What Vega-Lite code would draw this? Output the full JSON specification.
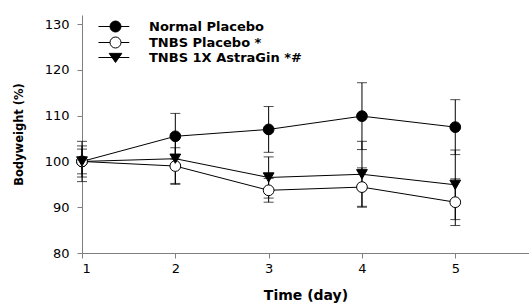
{
  "$schema": "https://vega.github.io/schema/vega-lite/v6.json",
  "width": 447,
  "height": 238,
  "autosize": {"type": "none"},
  "padding": {"left": 82, "top": 15, "right": 0, "bottom": 51},
  "background": "white",
  "config": {
    "view": {"stroke": null},
    "font": "DejaVu Sans",
    "axis": {
      "grid": false,
      "domainColor": "#7f7f7f",
      "tickColor": "#7f7f7f",
      "tickSize": 5,
      "labelColor": "black",
      "labelFontSize": 13,
      "labelFont": "DejaVu Sans",
      "titleColor": "black",
      "titleFont": "DejaVu Sans",
      "titleFontWeight": "bold"
    }
  },
  "data": {
    "values": [
      {"day": 1, "group": "Normal Placebo", "mean": 100.0, "lo": 95.6, "hi": 104.4},
      {"day": 2, "group": "Normal Placebo", "mean": 105.5, "lo": 100.5, "hi": 110.5},
      {"day": 3, "group": "Normal Placebo", "mean": 107.0, "lo": 102.0, "hi": 112.0},
      {"day": 4, "group": "Normal Placebo", "mean": 109.9, "lo": 102.6, "hi": 117.2},
      {"day": 5, "group": "Normal Placebo", "mean": 107.5, "lo": 101.5, "hi": 113.5},
      {"day": 1, "group": "TNBS Placebo", "mean": 100.0, "lo": 97.3, "hi": 102.7},
      {"day": 2, "group": "TNBS Placebo", "mean": 99.0, "lo": 95.0, "hi": 103.0},
      {"day": 3, "group": "TNBS Placebo", "mean": 93.7, "lo": 91.1, "hi": 96.3},
      {"day": 4, "group": "TNBS Placebo", "mean": 94.4, "lo": 90.2, "hi": 98.6},
      {"day": 5, "group": "TNBS Placebo", "mean": 91.1, "lo": 86.0, "hi": 96.2},
      {"day": 1, "group": "TNBS 1X AstraGin", "mean": 100.0, "lo": 96.6, "hi": 103.4},
      {"day": 2, "group": "TNBS 1X AstraGin", "mean": 100.6, "lo": 95.2, "hi": 106.0},
      {"day": 3, "group": "TNBS 1X AstraGin", "mean": 96.5, "lo": 92.0, "hi": 101.0},
      {"day": 4, "group": "TNBS 1X AstraGin", "mean": 97.2, "lo": 90.0, "hi": 104.4},
      {"day": 5, "group": "TNBS 1X AstraGin", "mean": 94.9, "lo": 87.3, "hi": 102.5}
    ]
  },
  "encoding": {
    "x": {
      "field": "day", "type": "quantitative",
      "scale": {"domain": [1, 5.79], "nice": false, "zero": false},
      "axis": {"values": [1, 2, 3, 4, 5], "format": "d", "title": "Time (day)", "titleFontSize": 14, "titlePadding": 13, "labelPadding": 4}
    }
  },
  "layer": [
    {
      "mark": {"type": "line", "color": "black", "strokeWidth": 1},
      "encoding": {
        "y": {"field": "mean", "type": "quantitative", "scale": {"domain": [80, 132], "nice": false, "zero": false},
          "axis": {"values": [80, 90, 100, 110, 120, 130], "title": "Bodyweight (%)", "titleFontSize": 11.5, "titlePadding": 20, "labelPadding": 8}},
        "detail": {"field": "group"}
      }
    },
    {
      "mark": {"type": "rule", "color": "black", "strokeWidth": 1},
      "encoding": {
        "y": {"field": "lo", "type": "quantitative"},
        "y2": {"field": "hi"}
      }
    },
    {
      "mark": {"type": "tick", "orient": "horizontal", "color": "black", "size": 10, "thickness": 1},
      "encoding": {"y": {"field": "lo", "type": "quantitative"}}
    },
    {
      "mark": {"type": "tick", "orient": "horizontal", "color": "black", "size": 10, "thickness": 1},
      "encoding": {"y": {"field": "hi", "type": "quantitative"}}
    },
    {
      "mark": {"type": "point", "filled": true, "size": 115, "stroke": "black", "strokeWidth": 1, "opacity": 1},
      "encoding": {
        "y": {"field": "mean", "type": "quantitative"},
        "shape": {"field": "group", "scale": {"domain": ["Normal Placebo", "TNBS Placebo", "TNBS 1X AstraGin"], "range": ["circle", "circle", "triangle-down"]}, "legend": null},
        "fill": {"field": "group", "scale": {"domain": ["Normal Placebo", "TNBS Placebo", "TNBS 1X AstraGin"], "range": ["black", "white", "black"]}, "legend": null}
      }
    },
    {
      "mark": {"type": "point", "filled": true, "size": 0, "stroke": "black", "strokeWidth": 1, "opacity": 1},
      "encoding": {
        "y": {"field": "mean", "type": "quantitative"},
        "shape": {"field": "group",
          "scale": {"domain": ["Normal Placebo", "TNBS Placebo", "TNBS 1X AstraGin"],
            "range": ["M-3.1,0H-1M1,0H2.5M-1,0A1,1 0 1,0 1,0A1,1 0 1,0 -1,0Z", "M-3.1,0H-1M1,0H2.5M-1,0A1,1 0 1,0 1,0A1,1 0 1,0 -1,0Z", "M-3.1,0H2.5M-1.15,-0.75L1.15,-0.75L0,0.9Z"]},
          "legend": {"title": null, "orient": "none", "legendX": 27, "legendY": 5, "symbolSize": 121, "symbolStrokeColor": "black", "symbolStrokeWidth": 1, "symbolOpacity": 1, "labelOffset": 27, "labelFontSize": 13, "labelFontWeight": "bold", "labelFont": "DejaVu Sans", "labelColor": "black", "rowPadding": 1,
            "labelExpr": "datum.label == 'TNBS Placebo' ? 'TNBS Placebo *' : datum.label == 'TNBS 1X AstraGin' ? 'TNBS 1X AstraGin *#' : datum.label",
            "encode": {"symbols": {"update": {"stroke": {"value": "black"}, "strokeWidth": {"value": 1}}}}}},
        "fill": {"field": "group",
          "scale": {"domain": ["Normal Placebo", "TNBS Placebo", "TNBS 1X AstraGin"], "range": ["black", "white", "black"]},
          "legend": {"title": null, "orient": "none", "legendX": 27, "legendY": 5, "symbolSize": 121, "symbolStrokeColor": "black", "symbolStrokeWidth": 1, "symbolOpacity": 1, "labelOffset": 27, "labelFontSize": 13, "labelFontWeight": "bold", "labelFont": "DejaVu Sans", "labelColor": "black", "rowPadding": 1,
            "labelExpr": "datum.label == 'TNBS Placebo' ? 'TNBS Placebo *' : datum.label == 'TNBS 1X AstraGin' ? 'TNBS 1X AstraGin *#' : datum.label",
            "encode": {"symbols": {"update": {"stroke": {"value": "black"}, "strokeWidth": {"value": 1}}}}}}
      }
    }
  ],
  "resolve": {"scale": {"shape": "independent", "fill": "independent"}, "legend": {"shape": "independent", "fill": "independent"}}
}
